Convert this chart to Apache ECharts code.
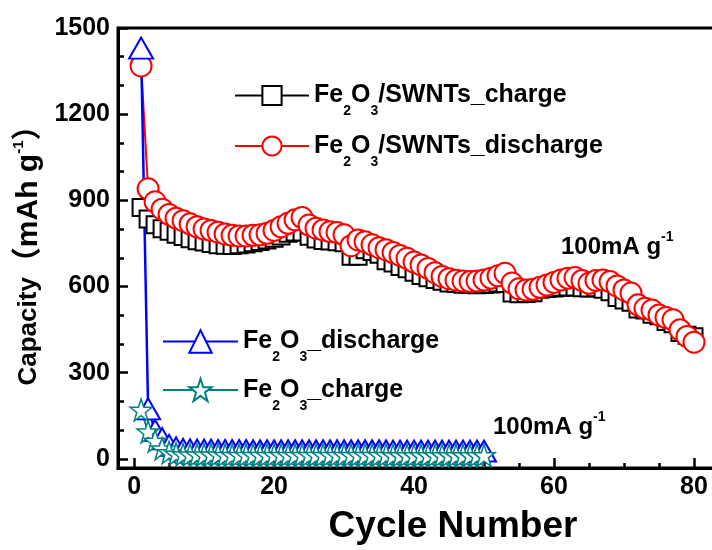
<!DOCTYPE html>
<html>
<head>
<meta charset="utf-8">
<script src="https://cdn.jsdelivr.net/npm/echarts@6/dist/echarts.min.js"></script>
<style>
  html, body { margin: 0; padding: 0; background: #ffffff; }
  #capacityChart { width: 712px; height: 550px; }
</style>
</head>
<body>
<div id="capacityChart"></div>
<script>
// capacity values (mAh g-1), one value per cycle starting at cycle 1
const swntCharge = [
  875, 835, 815, 801, 792, 782, 774, 766, 759, 755,
  750, 745, 744, 743, 745, 748, 752, 757, 762, 768,
  776, 785, 790, 790, 775, 765, 760, 758, 756, 752,
  705, 705, 728, 722, 712, 690, 682, 670, 662, 650,
  638, 630, 624, 618, 612, 610, 608, 607, 606, 607,
  609, 612, 610, 577, 575, 576, 578, 590, 593, 595,
  597, 598, 598, 596, 595, 596, 590, 582, 562, 553,
  545, 522, 518, 503, 498, 478, 470, 440, 430, 425
];
const swntDischarge = [
  1368, 940, 895, 869, 851, 838, 829, 818, 808, 800,
  795, 789, 783, 778, 776, 776, 778, 780, 785, 795,
  808, 820, 832, 840, 814, 803, 797, 791, 788, 780,
  742, 762, 756, 745, 735, 728, 718, 708, 698, 685,
  675, 663, 648, 635, 627, 622, 619, 617, 619, 623,
  629, 637, 646, 612, 592, 588, 590, 597, 605, 614,
  623, 629, 631, 621, 611, 621, 623, 617, 602, 588,
  577, 536, 524, 518, 501, 492, 484, 449, 426, 406
];
const feDischarge = [
  1430, 174, 99, 70, 47, 38, 33, 31, 30, 30,
  30, 29, 29, 29, 29, 29, 28, 28, 28, 28,
  28, 28, 28, 28, 28, 28, 28, 28, 28, 28,
  28, 28, 28, 28, 28, 28, 27, 27, 27, 27,
  27, 27, 27, 27, 27, 27, 27, 27, 27, 27
];
const feCharge = [
  170, 94, 62, 35, 22, 17, 15, 14, 14, 14,
  14, 14, 13, 13, 13, 13, 13, 13, 13, 13,
  13, 13, 13, 13, 13, 13, 13, 13, 13, 13,
  13, 13, 13, 13, 13, 13, 12, 12, 12, 12,
  12, 12, 12, 12, 12, 12, 12, 12, 12, 12
];

// tick positions
const xLabels = [0, 20, 40, 60, 80];
const xMinorTicks = [5, 10, 15, 25, 30, 35, 45, 50, 55, 65, 70, 75];
const yLabels = [0, 300, 600, 900, 1200, 1500];
const yMinorTicks = [100, 200, 400, 500, 700, 800, 1000, 1100, 1300, 1400];

const FONT = '"Liberation Sans", Arial, "Noto Sans CJK SC", sans-serif';
const STAR = 'path://M50,2 L61.5,36 L97,36 L68.5,57 L79.5,92 L50,70.5 L20.5,92 L31.5,57 L3,36 L38.5,36 Z';

function toPoints(values) {
  return values.map(function (v, i) { return [i + 1, v]; });
}

// Fe2O3 -> Fe{s|2}O{s|3}
function legendText(name) {
  let rest = name.replace('Fe2O3', '');
  return '{m|Fe}{s|2}{m|O}{s|3}{m|' + rest + '}';
}

const legendRich = {
  m: { fontFamily: FONT, fontWeight: 'bold', fontSize: 25, color: '#000' },
  s: { fontFamily: FONT, fontWeight: 'bold', fontSize: 14, color: '#000', verticalAlign: 'bottom', lineHeight: 46 }
};
const supRich = {
  m: { font: 'bold 24px ' + FONT, fill: '#000' },
  p: { font: 'bold 14px ' + FONT, fill: '#000', verticalAlign: 'top', lineHeight: 34 }
};

let myChart = echarts.init(document.getElementById('capacityChart'));

let option = {
  animation: false,
  backgroundColor: '#ffffff',
  grid: {
    left: 118,
    top: 28,
    right: -10,
    bottom: 82,
    show: true,
    borderColor: '#000',
    borderWidth: 3,
    outerBoundsMode: 'none'
  },
  legend: [
    {
      data: ['Fe2O3/SWNTs_charge', 'Fe2O3/SWNTs_discharge'],
      orient: 'vertical',
      left: 234,
      top: 83,
      padding: 0,
      itemGap: 15,
      itemWidth: 74,
      itemHeight: 24,
      selectedMode: false,
      formatter: legendText,
      textStyle: { rich: legendRich }
    },
    {
      data: ['Fe2O3_discharge', 'Fe2O3_charge'],
      orient: 'vertical',
      left: 162,
      top: 329,
      padding: 0,
      itemGap: 13,
      itemWidth: 75,
      itemHeight: 28,
      selectedMode: false,
      formatter: legendText,
      textStyle: { rich: legendRich }
    }
  ],
  xAxis: [
    {
      type: 'value',
      min: -2.3,
      max: 84,
      name: 'Cycle Number',
      nameLocation: 'middle',
      nameGap: 40,
      nameTextStyle: {
        fontFamily: FONT, fontWeight: 'bold', fontSize: 37, color: '#000',
        padding: [0, 0, 0, 66]
      },
      axisLine: { onZero: false, lineStyle: { color: '#000', width: 3 } },
      axisTick: { inside: true, length: 10, customValues: xLabels, lineStyle: { color: '#000', width: 2.5 } },
      axisLabel: {
        customValues: xLabels, margin: 7,
        fontFamily: FONT, fontWeight: 'bold', fontSize: 25, color: '#000'
      },
      splitLine: { show: false }
    },
    {
      // minor ticks only
      type: 'value',
      min: -2.3,
      max: 84,
      position: 'bottom',
      axisLine: { show: false, onZero: false },
      axisTick: { inside: true, length: 5, customValues: xMinorTicks, lineStyle: { color: '#000', width: 2.5 } },
      axisLabel: { show: false },
      splitLine: { show: false }
    }
  ],
  yAxis: [
    {
      type: 'value',
      min: -32,
      max: 1500,
      name: '{c|Capacity}{t|（mAh g}{p|-1}{t|）}',
      nameLocation: 'middle',
      nameRotate: 90,
      nameGap: 50,
      nameTextStyle: {
        rich: {
          c: { fontFamily: FONT, fontWeight: 'bold', fontSize: 26, color: '#000' },
          t: { fontFamily: FONT, fontWeight: 'bold', fontSize: 30, color: '#000' },
          p: { fontFamily: FONT, fontWeight: 'bold', fontSize: 15, color: '#000', verticalAlign: 'top', lineHeight: 35 }
        }
      },
      axisLine: { onZero: false, lineStyle: { color: '#000', width: 3 } },
      axisTick: { inside: true, length: 10, customValues: yLabels, lineStyle: { color: '#000', width: 2.5 } },
      axisLabel: {
        customValues: yLabels, margin: 8,
        formatter: function (v) { return String(v); },
        fontFamily: FONT, fontWeight: 'bold', fontSize: 25, color: '#000'
      },
      splitLine: { show: false }
    },
    {
      type: 'value',
      min: -32,
      max: 1500,
      position: 'left',
      axisLine: { show: false, onZero: false },
      axisTick: { inside: true, length: 6, customValues: yMinorTicks, lineStyle: { color: '#000', width: 2.5 } },
      axisLabel: { show: false },
      splitLine: { show: false }
    }
  ],
  series: [
    {
      name: 'Fe2O3/SWNTs_charge',
      type: 'line',
      data: toPoints(swntCharge),
      symbol: 'emptyRect',
      symbolSize: 17,
      itemStyle: { color: '#000000', borderWidth: 1.5 },
      lineStyle: { color: '#000000', width: 1.5 }
    },
    {
      name: 'Fe2O3/SWNTs_discharge',
      type: 'line',
      data: toPoints(swntDischarge),
      symbol: 'emptyCircle',
      symbolSize: 21,
      itemStyle: { color: '#ff0000', borderWidth: 1.5 },
      lineStyle: { color: '#ff0000', width: 2 }
    },
    {
      name: 'Fe2O3_discharge',
      type: 'line',
      data: toPoints(feDischarge),
      symbol: 'emptyTriangle',
      symbolSize: [24, 21],
      itemStyle: { color: '#0000ff', borderWidth: 1.5 },
      lineStyle: { color: '#0000ff', width: 2.5 }
    },
    {
      name: 'Fe2O3_charge',
      type: 'line',
      data: toPoints(feCharge),
      symbol: STAR,
      symbolSize: 22,
      itemStyle: { color: '#ffffff', borderColor: '#008080', borderWidth: 1.5 },
      lineStyle: { color: '#008080', width: 2 }
    }
  ],
  graphic: [
    {
      type: 'text', x: 561, y: 247, z: 100,
      style: { text: '{m|100mA g}{p|-1}', rich: supRich, align: 'left', verticalAlign: 'middle' }
    },
    {
      type: 'text', x: 493, y: 427, z: 100,
      style: { text: '{m|100mA g}{p|-1}', rich: supRich, align: 'left', verticalAlign: 'middle' }
    }
  ]
};

myChart.setOption(option);
</script>
</body>
</html>
